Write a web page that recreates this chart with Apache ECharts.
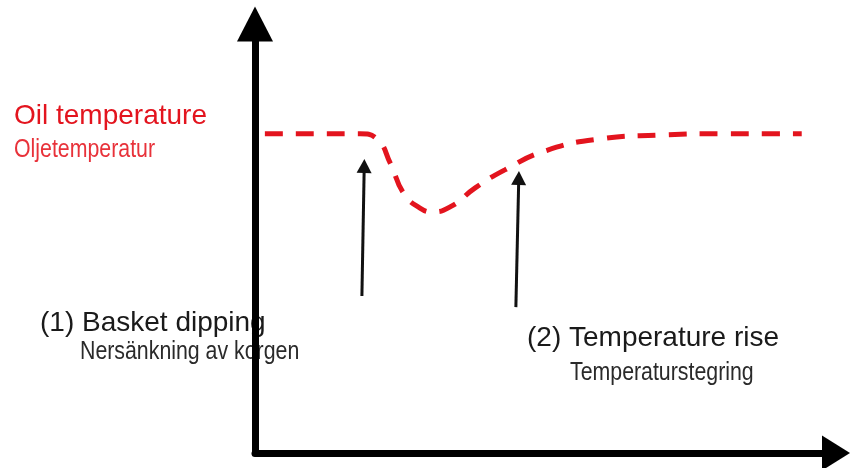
<!DOCTYPE html>
<html>
<head>
<meta charset="utf-8">
<script src="https://cdn.jsdelivr.net/npm/echarts@6/dist/echarts.min.js"></script>
<style>
  html, body { margin: 0; padding: 0; background: #fff; }
  #pic_chart { width: 851px; height: 468px; }
</style>
</head>
<body>
<div id="pic_chart"></div>
<script>
// schematic: oil temperature dips when the basket goes in, then recovers
var timeAxis = [1.7, 18.1, 21.0, 23.3, 25.6, 28.4, 30.6, 33.9, 37.9, 43.0, 49.9, 59.4, 69.7, 80.0, 94.1];
var oilTemp  = [74.4, 74.4, 73.2, 67.5, 60.5, 57.1, 56.2, 57.6, 61.8, 66.0, 70.4, 73.2, 74.1, 74.4, 74.4];

// event arrows (time, temperature) from -> to
var arrowFrom = [[18.4, 36.6], [44.9, 34.0]];
var arrowTo   = [[18.8, 66.9], [45.4, 64.1]];

var enLabels = ['Oil temperature', '(1) Basket dipping', '(2) Temperature rise'];
var svLabels = ['Oljetemperatur', 'Nersänkning av korgen', 'Temperaturstegring'];

var red = '#e3141e';
var enFont = '28px "Liberation Sans", Arial, sans-serif';
var svFont = '26px "Liberation Sans", Arial, sans-serif';
var narrow = 0.82; // squeeze for the condensed swedish lines

var myChart = echarts.init(document.getElementById('pic_chart'));

var pts = timeAxis.map(function (t, i) { return [t, oilTemp[i]]; });
var arrows = arrowFrom.map(function (p, i) {
    return [{ coord: p }, { coord: arrowTo[i] }];
});

function enText(s, x, y, color) {
    return { type: 'text', x: x, y: y, style: { text: s, font: enFont, fill: color, verticalAlign: 'middle' } };
}
function svText(s, x, y, color) {
    return { type: 'text', x: x, y: y, scaleX: narrow, style: { text: s, font: svFont, fill: color, verticalAlign: 'middle' } };
}

var option = {
    animation: false,
    grid: { left: 255, right: 15, top: 24, bottom: 15 },
    xAxis: {
        type: 'value', min: 0, max: 100,
        axisLine: { show: true, symbol: ['none', 'triangle'], symbolSize: [35, 28],
            lineStyle: { color: '#000', width: 7 } },
        axisTick: { show: false }, axisLabel: { show: false }, splitLine: { show: false }
    },
    yAxis: {
        type: 'value', min: 0, max: 100,
        axisLine: { show: true, symbol: ['none', 'triangle'], symbolSize: [36, 35],
            lineStyle: { color: '#000', width: 7 } },
        axisTick: { show: false }, axisLabel: { show: false }, splitLine: { show: false }
    },
    series: [
        {
            name: enLabels[0],
            type: 'line',
            data: pts,
            smooth: 0.5,
            symbol: 'none',
            lineStyle: { color: red, width: 5, type: [18, 13] },
            markLine: {
                silent: true,
                symbol: ['none', 'triangle'],
                symbolSize: [15, 14],
                label: { show: false },
                lineStyle: { color: '#111', width: 3, type: 'solid' },
                data: arrows
            }
        }
    ],
    graphic: [
        enText(enLabels[0], 14, 116, red),
        svText(svLabels[0], 14, 150, '#e8323a'),
        enText(enLabels[1], 40, 323, '#1a1a1a'),
        svText(svLabels[1], 80, 352, '#2a2a2a'),
        enText(enLabels[2], 527, 338, '#1a1a1a'),
        svText(svLabels[2], 570, 373, '#2a2a2a')
    ]
};
myChart.setOption(option);
</script>
</body>
</html>
